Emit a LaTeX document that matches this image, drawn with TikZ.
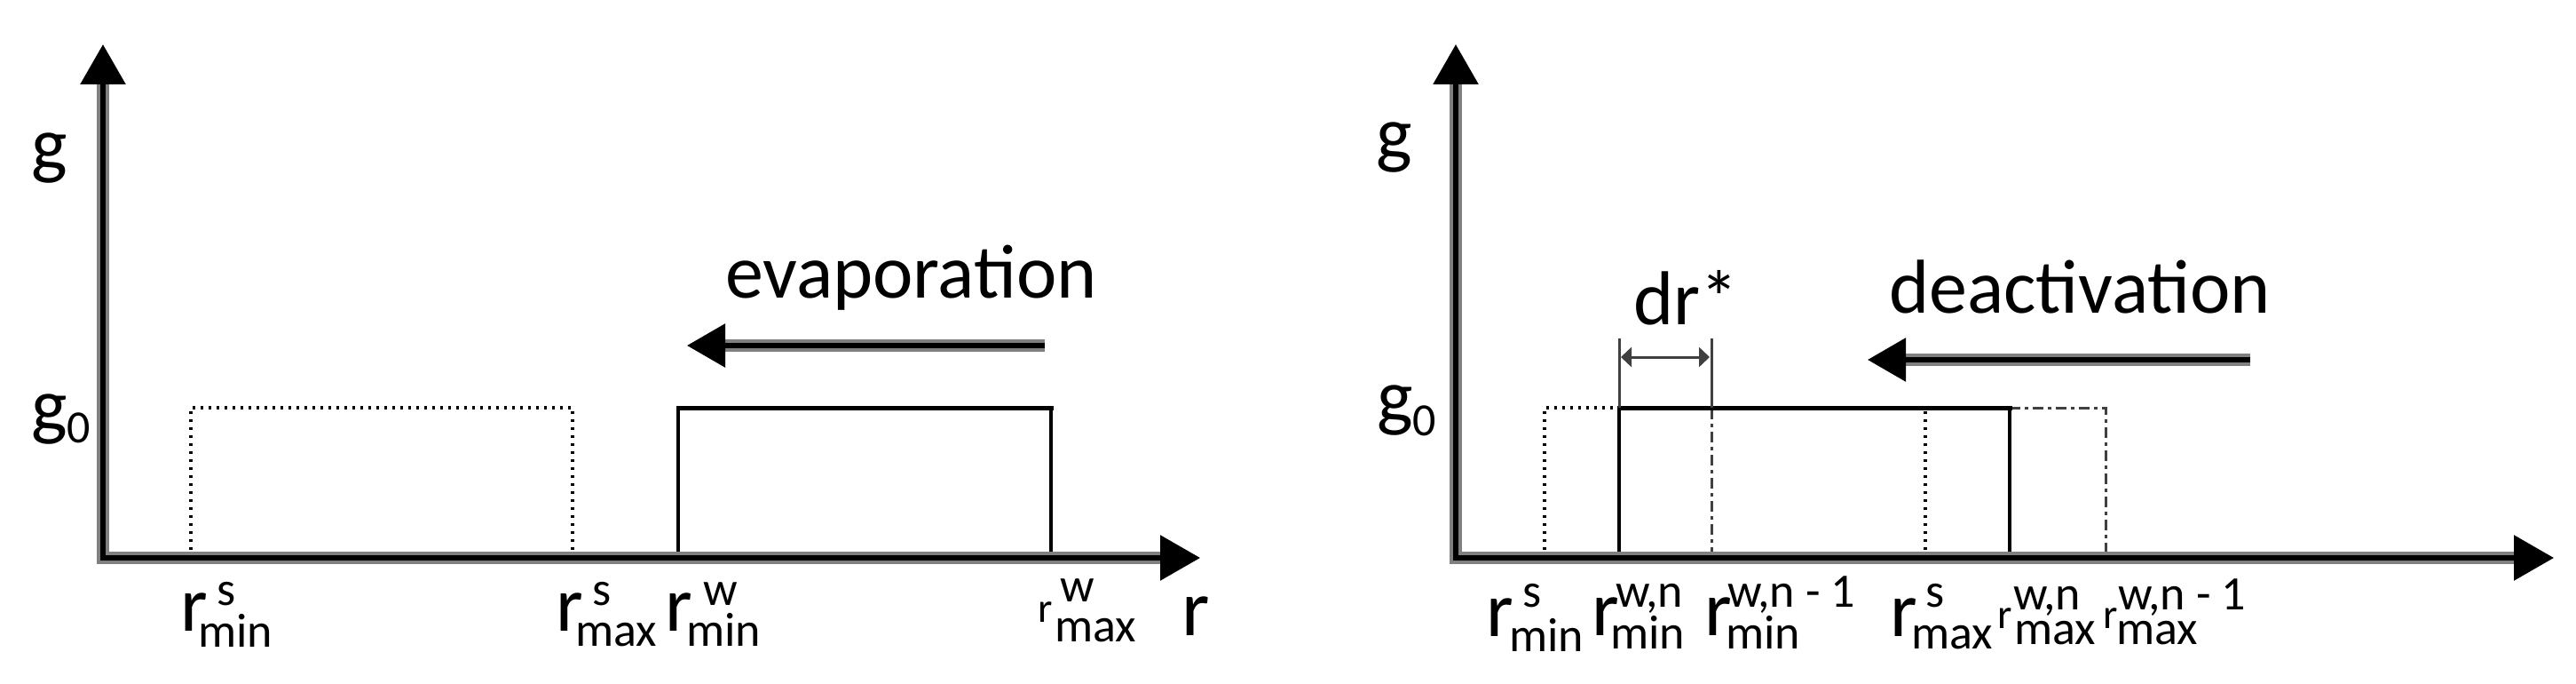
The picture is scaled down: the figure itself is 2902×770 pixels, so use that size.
\documentclass[tikz,border=0pt]{standalone}
\usepackage{fontspec}
\setmainfont{Carlito}
\usetikzlibrary{arrows.meta,calc}
\definecolor{halogray}{RGB}{128,128,128}
\definecolor{dgray}{RGB}{64,64,64}
\newcommand{\scrfont}{\fontsize{54}{54}\selectfont}
% #1 r size, #2 sup dx, #3 sup raise, #4 sup text, #5 sub dx, #6 sub raise, #7 sub text
\newcommand{\rlab}[7]{\makebox[0pt][l]{\fontsize{#1}{#1}\selectfont r}%
  \makebox[0pt][l]{\hspace{#2}\raisebox{#3}{\scrfont #4}}%
  \hspace{#5}\raisebox{#6}{\scrfont #7}}
\begin{document}
\begin{tikzpicture}[x=1pt,y=-1pt,
  lbl/.style={anchor=base west, inner sep=0pt, outer sep=0pt},
  bigtxt/.style={font=\fontsize{86}{86}\selectfont},
  halo/.style={line width=14pt, draw=halogray, line cap=rect},
  core/.style={line width=6pt, draw=black},
  tipbig/.style={-{Triangle[length=45pt,width=50pt]}},
  tipmid/.style={-{Triangle[length=43pt,width=48pt]}},
  dotl/.style={line width=3.3pt, dash pattern=on 3.3pt off 5.7pt},
  solidl/.style={line width=3.3pt},
  topl/.style={line width=5pt, line cap=rect},
  dashdotl/.style={line width=3pt, draw=dgray, dash pattern=on 12pt off 5pt on 4pt off 5pt},
  drline/.style={line width=3pt, draw=dgray},
  drarrow/.style={line width=3pt, draw=dgray, {Triangle[length=12pt,width=22pt]}-{Triangle[length=12pt,width=22pt]}},
]
\useasboundingbox (0,0) rectangle (2902,770);

% ---------------- left panel ----------------
\coordinate (A1) at (215,628); \coordinate (A2) at (215,459);
\coordinate (A3) at (645,459); \coordinate (A4) at (645,628);
\draw[dotl] (A1) -- (A2) -- (A3) -- (A4);
\coordinate (B1) at (764,628); \coordinate (B2) at (764,459);
\coordinate (B3) at (1184,459); \coordinate (B4) at (1184,628);
\draw[solidl] (B1) -- (B2);
\draw[solidl] (B3) -- (B4);
\draw[topl] (B2) -- (B3);

\coordinate (O1) at (116,628);
\coordinate (Y1) at (116,50); \coordinate (Y1b) at (116,95);
\coordinate (X1) at (1352,628); \coordinate (X1b) at (1308,628);
\draw[halo] (O1) -- (Y1b);
\draw[halo] (O1) -- (X1b);
\draw[core,tipbig,line cap=rect] (O1) -- (Y1);
\draw[core,tipbig,line cap=rect] (O1) -- (X1);

\coordinate (E1) at (1177,389); \coordinate (E2b) at (816,389); \coordinate (E2) at (774,389);
\draw[halo,line cap=butt] (E1) -- (E2b);
\draw[core,tipmid] (E1) -- (E2);

\node[lbl,bigtxt] (gL) at (35,192) {g};
\node[lbl,bigtxt] (g0L) at (35,485) {g\raisebox{-13pt}{\fontsize{52}{52}\selectfont 0}};
\node[lbl,bigtxt] (evap) at (817,335) {evaporation};

\node[lbl] (rL1) at (203,710) {\rlab{88}{41pt}{29pt}{s}{20pt}{-18pt}{min}};
\node[lbl] (rL2) at (626,710) {\rlab{88}{41pt}{29pt}{s}{22pt}{-17pt}{max}};
\node[lbl] (rL3) at (749,710) {\rlab{88}{43pt}{29pt}{w}{24pt}{-17pt}{min}};
\node[lbl] (rL4) at (1169,700) {\rlab{47}{25pt}{23pt}{w}{19pt}{-22pt}{max}};
\node[lbl,font=\fontsize{90}{90}\selectfont] (rAx) at (1331,715) {r};

% ---------------- right panel ----------------
\coordinate (C1) at (1740,628); \coordinate (C2) at (1740,459); \coordinate (C3) at (1824,459);
\draw[dotl] (C1) -- (C2) -- (C3);
\coordinate (S1) at (2169,628); \coordinate (S2) at (2169,459);
\draw[dotl] (S1) -- (S2);
\coordinate (D1) at (1928,628); \coordinate (D2) at (1928,459); \coordinate (D3) at (1928,381);
\draw[dashdotl] (D1) -- (D2);
\coordinate (F1) at (2264,459); \coordinate (F2) at (2372,459); \coordinate (F3) at (2372,628);
\draw[dashdotl] (F1) -- (F2) -- (F3);
\coordinate (P1) at (1824,628); \coordinate (P2) at (1824,459);
\coordinate (P3) at (2264,459); \coordinate (P4) at (2264,628);
\coordinate (P5) at (1824,381);
\draw[solidl] (P1) -- (P2);
\draw[solidl] (P3) -- (P4);
\draw[topl] (P2) -- (P3);
\draw[drline] (P2) -- (P5);
\draw[drline] (D2) -- (D3);
\coordinate (R1) at (1826,402); \coordinate (R2) at (1926,402);
\draw[drarrow] (R1) -- (R2);

\coordinate (O2) at (1640,628);
\coordinate (Y2) at (1640,50); \coordinate (Y2b) at (1640,95);
\coordinate (X2) at (2877,628); \coordinate (X2b) at (2833,628);
\draw[halo] (O2) -- (Y2b);
\draw[halo] (O2) -- (X2b);
\draw[core,tipbig,line cap=rect] (O2) -- (Y2);
\draw[core,tipbig,line cap=rect] (O2) -- (X2);

\coordinate (H1) at (2535,405); \coordinate (H2b) at (2147,405); \coordinate (H2) at (2104,405);
\draw[halo,line cap=butt] (H1) -- (H2b);
\draw[core,tipmid] (H1) -- (H2);

\node[lbl,bigtxt] (gR) at (1550,180) {g};
\node[lbl,bigtxt] (g0R) at (1551,475) {g\raisebox{-15pt}{\fontsize{52}{52}\selectfont 0}};
\node[lbl,bigtxt] (drs) at (1840,365) {dr*};
\node[lbl,bigtxt] (deact) at (2128,352) {deactivation};

\node[lbl] (rR1) at (1674,716) {\rlab{88}{41pt}{33pt}{s}{26pt}{-17pt}{min}};
\node[lbl] (rR2) at (1793,715) {\rlab{88}{27pt}{32pt}{w,n}{21pt}{-15pt}{min}};
\node[lbl] (rR3) at (1920,715) {\rlab{88}{26pt}{32pt}{w,n - 1}{24pt}{-15pt}{min}};
\node[lbl] (rR4) at (2129,716) {\rlab{88}{40pt}{33pt}{s}{24pt}{-14pt}{max}};
\node[lbl] (rR5) at (2250,707) {\rlab{47}{18pt}{21pt}{w,n}{19pt}{-18pt}{max}};
\node[lbl] (rR6) at (2369,707) {\rlab{47}{17pt}{21pt}{w,n - 1}{15pt}{-18pt}{max}};
\end{tikzpicture}
\end{document}
